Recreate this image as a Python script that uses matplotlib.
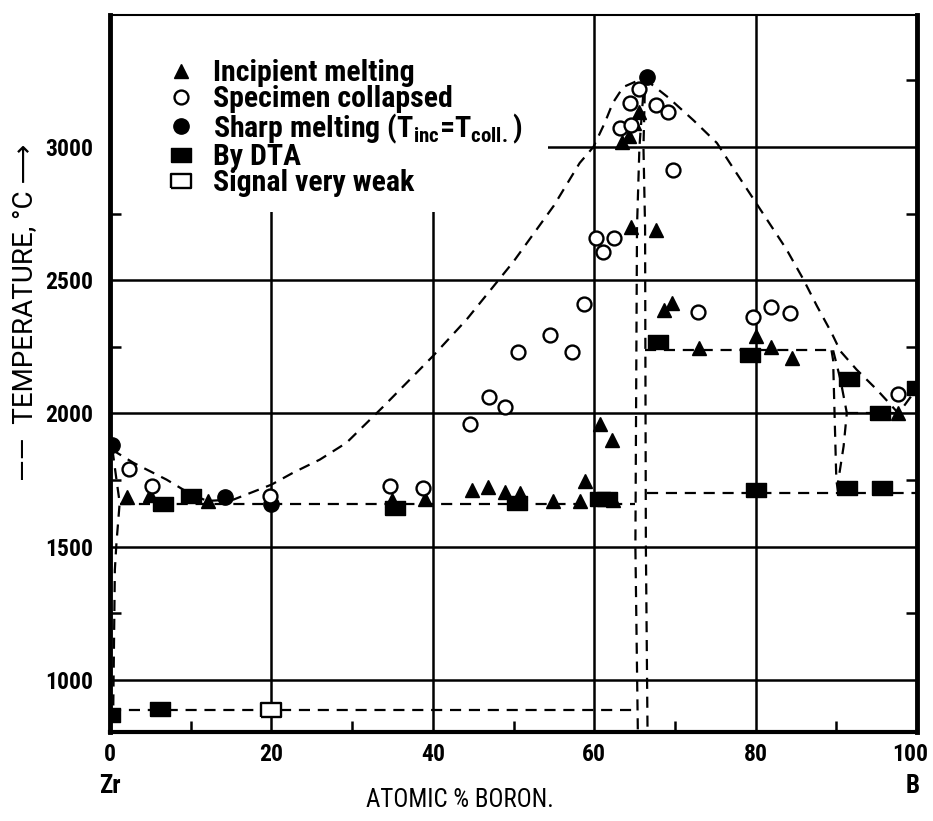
import matplotlib
matplotlib.use("Agg")
import matplotlib.pyplot as plt
import matplotlib.transforms as mtrans
from matplotlib.patches import Rectangle
from matplotlib.ticker import FixedLocator

plt.rcParams["font.family"] = ["Roboto Condensed", "Liberation Sans Narrow", "Noto Sans", "DejaVu Sans"]
plt.rcParams["font.stretch"] = "condensed"
plt.rcParams["font.weight"] = "bold"
plt.rcParams["mathtext.fontset"] = "custom"
plt.rcParams["mathtext.rm"] = "Roboto Condensed:bold"

# --- measured points (atomic % B, deg C) ---
incip_x = [2.1, 5.0, 12.2, 35.0, 39.0, 44.8, 46.8, 48.9, 50.8, 54.9, 58.2, 58.8, 60.7, 62.2,
           62.3, 63.4, 64.3, 64.9, 65.6, 64.5, 67.7, 68.6, 69.6, 73.0, 80.0, 81.9, 84.5, 97.7]
incip_y = [1685, 1695, 1670, 1675, 1680, 1714, 1723, 1707, 1701, 1673, 1670, 1745, 1959, 1900,
           1675, 3020, 3040, 3090, 3130, 2700, 2690, 2390, 2415, 2245, 2290, 2250, 2207, 2000]

coll_x = [2.3, 5.2, 19.8, 34.7, 38.8, 44.6, 46.9, 48.9, 50.6, 54.5, 57.3, 58.7, 60.2, 61.1,
          62.4, 63.2, 64.6, 64.4, 65.5, 67.7, 69.2, 69.8, 72.9, 79.7, 81.9, 84.3, 97.6]
coll_y = [1790, 1727, 1690, 1727, 1720, 1959, 2062, 2024, 2230, 2293, 2230, 2409, 2657, 2607,
          2657, 3070, 3083, 3164, 3217, 3158, 3133, 2913, 2380, 2362, 2398, 2378, 2075]

sharp_x = [0.2, 14.3, 20.0, 66.5]
sharp_y = [1883, 1685, 1660, 3262]

dta_x = [0.0, 6.2, 6.6, 10.0, 35.3, 50.4, 60.7, 61.6, 67.9, 79.3, 91.6, 95.4, 100.0, 80.0, 91.3, 95.6]
dta_y = [870, 890, 1660, 1690, 1645, 1664, 1680, 1680, 2270, 2220, 2130, 2000, 2095, 1714, 1720, 1722]

weak_x = [20.0]
weak_y = [888]

x_ticks = [0, 20, 40, 60, 80, 100]
y_ticks = [1000, 1500, 2000, 2500, 3000]

# --- phase boundaries (dashed) ---
liq_left_x = [0.2, 2.9, 7.0, 9.7, 12.0, 15.3, 20.0, 22.7, 26.0, 29.3, 33.9, 40.0, 44.2, 50.0,
              55.0, 58.2, 59.9, 61.3, 62.3, 63.6, 66.4]
liq_left_y = [1865, 1815, 1752, 1703, 1672, 1677, 1733, 1778, 1827, 1890, 2027, 2215, 2353, 2570,
              2780, 2940, 3000, 3090, 3165, 3225, 3262]
liq_right_x = [66.4, 66.9, 69.2, 72.3, 75.2, 76.8, 83.8, 85.9, 87.6, 89.4, 90.5, 92.5, 95.0, 96.7,
               97.7, 100.0]
liq_right_y = [3262, 3240, 3185, 3100, 3015, 2940, 2617, 2504, 2403, 2303, 2234, 2165, 2090, 2034,
               2000, 2095]
zr_side_x = [0.3, 0.8, 1.2, 0.8, 0.6, 0.4]
zr_side_y = [1865, 1752, 1665, 1515, 1413, 885]
eut_left_x = [1.2, 65.1]
eut_left_y = [1662, 1662]
low_x = [0.0, 65.1]
low_y = [887, 887]
zrb2_left_x = [65.4, 65.1, 65.3, 65.6, 66.2]
zrb2_left_y = [815, 1500, 2700, 3000, 3250]
zrb2_right_x = [66.6, 66.4, 66.3, 66.1, 66.3]
zrb2_right_y = [825, 1500, 2700, 3000, 3250]
h2240_x = [66.3, 89.4]
h2240_y = [2237, 2237]
h1702_x = [66.5, 100.0]
h1702_y = [1702, 1702]
v90_x = [89.4, 89.6, 90.0, 90.2]
v90_y = [2237, 2200, 1750, 1710]
arc90_x = [89.6, 90.5, 91.3, 90.9, 90.2]
arc90_y = [2237, 2128, 2002, 1877, 1740]
h2000_x = [91.3, 97.7]
h2000_y = [2000, 2000]

RECT = [(-1, -0.7), (1, -0.7), (1, 0.7), (-1, 0.7), (-1, -0.7)]

fig = plt.figure(figsize=(9.33, 8.21), dpi=100)
ax = fig.add_axes([0.1179, 0.1084, 0.865, 0.8733])

dash = dict(color="black", lw=1.6, ls=(0, (5, 3.5)), zorder=2)
for xs, ys in [(liq_left_x, liq_left_y), (liq_right_x, liq_right_y), (zr_side_x, zr_side_y),
               (eut_left_x, eut_left_y), (low_x, low_y), (zrb2_left_x, zrb2_left_y),
               (zrb2_right_x, zrb2_right_y), (h2240_x, h2240_y), (h1702_x, h1702_y),
               (v90_x, v90_y), (arc90_x, arc90_y), (h2000_x, h2000_y)]:
    ax.plot(xs, ys, **dash)

h1, = ax.plot(incip_x, incip_y, ls="none", marker="^", ms=10, color="black", zorder=3,
              label="Incipient melting")
h2, = ax.plot(coll_x, coll_y, ls="none", marker="o", ms=10, mfc="white", mec="black", mew=1.7,
              zorder=4, label="Specimen collapsed")
h3, = ax.plot(sharp_x, sharp_y, ls="none", marker="o", ms=11, color="black", zorder=3,
              label=r"Sharp melting (T$_{\rm inc}$=T$_{\rm coll.}$)")
h4, = ax.plot(dta_x, dta_y, ls="none", marker=RECT, ms=15, color="black", zorder=3, label="By DTA")
h5, = ax.plot(weak_x, weak_y, ls="none", marker=RECT, ms=15, mfc="white", mec="black", mew=1.7,
              zorder=4, label="Signal very weak")

ax.set_xlim(0, 100)
ax.set_ylim(805, 3495)
ax.set_xticks(x_ticks, labels=[str(v) for v in x_ticks], fontsize=17, fontweight="bold")
ax.set_yticks(y_ticks, labels=[str(v) for v in y_ticks], fontsize=17, fontweight="bold")
ax.xaxis.set_minor_locator(FixedLocator([10, 30, 50, 70, 90]))
ax.yaxis.set_minor_locator(FixedLocator([1250, 1750, 2250, 2750, 3250]))
ax.grid(True, which="major", color="black", lw=1.8)
ax.set_axisbelow(True)
ax.tick_params(which="major", length=0)
ax.tick_params(axis="y", which="major", pad=12)
ax.tick_params(axis="x", which="major", pad=8)
ax.tick_params(which="minor", direction="in", length=8, width=1.8, left=True, right=True,
               bottom=True)
for side, w in [("left", 3.5), ("right", 3.5), ("bottom", 3.0), ("top", 1.5)]:
    ax.spines[side].set_linewidth(w)

# last x label sits a bit left, as in the original
last = ax.get_xticklabels()[-1]
last.set_transform(last.get_transform() + mtrans.ScaledTranslation(-5 / 72, 0, fig.dpi_scale_trans))

# white patch behind the key hides the grid there
ax.add_patch(Rectangle((0, 0.725), 0.543, 0.275, transform=ax.transAxes, facecolor="white",
                       edgecolor="none", zorder=1.5))
ax.legend(handles=[h1, h2, h3, h4, h5], loc="upper left", bbox_to_anchor=(0.066, 0.938),
          frameon=False, fontsize=21.5, numpoints=1, handlelength=1.2, handletextpad=0.45,
          borderpad=0, borderaxespad=0, labelspacing=-0.07)

bt = mtrans.blended_transform_factory(ax.transData, ax.transAxes)
ax.text(0, -0.075, "Zr", transform=bt, ha="center", va="center", fontsize=18)
ax.text(99.4, -0.075, "B", transform=bt, ha="center", va="center", fontsize=18)
ax.text(0.434, -0.095, "ATOMIC % BORON.", transform=ax.transAxes, ha="center", va="center",
        fontsize=18, fontweight="normal")
ax.text(-0.105, 0.585, "\u2014\u2014  TEMPERATURE, \u00b0C \u27f6", transform=ax.transAxes,
        rotation=90, ha="center", va="center", fontsize=20, fontweight="normal",
        fontstretch="normal", family=["Roboto", "DejaVu Sans"])

fig.savefig("out.png", dpi=100)
